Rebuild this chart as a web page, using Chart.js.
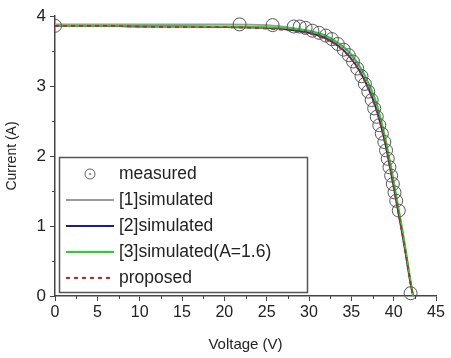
<!DOCTYPE html>
<html>
<head>
<meta charset="utf-8">
<script src="https://cdn.jsdelivr.net/npm/chart.js@4"></script>
<style>
  html, body { margin: 0; padding: 0; background: #fff; }
  #wrap { width: 451px; height: 358px; }
</style>
</head>
<body>
<div id="wrap"><canvas id="myChart"></canvas></div>
<script>
'use strict';

// measured points (V, A)
var measV = [0, 21.8, 25.7, 28.2, 28.9, 29.6, 30.4, 31.2, 32.0, 32.7, 33.4, 34.1, 34.7, 35.2, 35.7, 36.2,
    36.6, 37.0, 37.4, 37.7, 38.0, 38.3, 38.6, 38.9, 39.1, 39.3, 39.5, 39.7, 39.9, 40.1, 40.3, 40.6, 42.0];
var measI = [3.86, 3.88, 3.87, 3.85, 3.85, 3.83, 3.79, 3.76, 3.72, 3.67, 3.60, 3.52, 3.44, 3.35, 3.25, 3.14,
    3.03, 2.92, 2.80, 2.68, 2.56, 2.44, 2.32, 2.20, 2.08, 1.96, 1.84, 1.72, 1.60, 1.48, 1.36, 1.22, 0.04];

// simulated curves share one voltage grid
var simV = [0, 5, 10, 15, 20, 25, 28, 30, 32, 34, 35, 36, 37, 38, 39, 40, 41, 41.5, 42, 42.3];
var sim1 = [3.88, 3.88, 3.88, 3.88, 3.88, 3.87, 3.83, 3.78, 3.70, 3.56, 3.44, 3.27, 3.04, 2.74, 2.24, 1.62, 0.95, 0.58, 0.20, 0];
var sim2 = [3.86, 3.86, 3.85, 3.85, 3.84, 3.83, 3.80, 3.76, 3.68, 3.52, 3.39, 3.21, 2.97, 2.65, 2.18, 1.56, 0.90, 0.54, 0.17, 0];
var sim3 = [3.86, 3.86, 3.86, 3.85, 3.85, 3.84, 3.82, 3.79, 3.72, 3.57, 3.45, 3.28, 3.05, 2.74, 2.26, 1.64, 0.97, 0.60, 0.21, 0];
var prop = [3.86, 3.86, 3.85, 3.84, 3.84, 3.82, 3.79, 3.75, 3.67, 3.51, 3.38, 3.20, 2.96, 2.64, 2.17, 1.55, 0.90, 0.55, 0.18, 0];

var xTicks = [0, 5, 10, 15, 20, 25, 30, 35, 40, 45];
var yTicks = [0, 1, 2, 3, 4];

function pts(xs, ys) {
    return xs.map(function(x, i) { return {x: x, y: ys[i]}; });
}

var FONT = 'Liberation Sans, Arial, sans-serif';

// minor ticks + custom legend box
var extras = {
    id: 'extras',
    // markers are cut at the y axis (left side only)
    beforeDatasetDraw: function(chart, args) {
        if (args.index !== 0) return;
        var ctx = chart.ctx, a = chart.chartArea;
        ctx.save();
        ctx.beginPath();
        ctx.rect(a.left, 0, chart.width - a.left, chart.height);
        ctx.clip();
    },
    afterDatasetDraw: function(chart, args) {
        if (args.index === 0) chart.ctx.restore();
    },
    afterDraw: function(chart) {
        var ctx = chart.ctx;
        var xs = chart.scales.x, ys = chart.scales.y;
        ctx.save();
        ctx.strokeStyle = '#444';
        ctx.lineWidth = 1;
        var v;
        for (v = 2.5; v < 45; v += 5) {
            var px = Math.round(xs.getPixelForValue(v)) + 0.5;
            ctx.beginPath(); ctx.moveTo(px, ys.bottom); ctx.lineTo(px, ys.bottom + 3); ctx.stroke();
        }
        for (v = 0.5; v < 4; v += 1) {
            var py = Math.round(ys.getPixelForValue(v)) + 0.5;
            ctx.beginPath(); ctx.moveTo(xs.left, py); ctx.lineTo(xs.left - 3, py); ctx.stroke();
        }

        // legend
        ctx.fillStyle = '#fff';
        ctx.fillRect(59, 157, 248, 135);
        ctx.strokeStyle = '#555';
        ctx.lineWidth = 1.5;
        ctx.strokeRect(59.5, 157.5, 248, 135);
        ctx.font = '17.5px ' + FONT;
        ctx.textBaseline = 'middle';
        var rowY = [174, 200, 226, 252, 278];
        chart.data.datasets.forEach(function(ds, i) {
            var y = rowY[i];
            if (ds.showLine === false) {
                ctx.strokeStyle = '#666';
                ctx.lineWidth = 1;
                ctx.beginPath(); ctx.arc(90, y, 5, 0, Math.PI * 2); ctx.stroke();
                ctx.fillStyle = '#777';
                ctx.beginPath(); ctx.arc(90, y, 1, 0, Math.PI * 2); ctx.fill();
            } else {
                ctx.strokeStyle = ds.borderColor;
                ctx.lineWidth = 2;
                ctx.setLineDash(ds.borderDash || []);
                ctx.beginPath(); ctx.moveTo(66, y); ctx.lineTo(114, y); ctx.stroke();
                ctx.setLineDash([]);
            }
            ctx.fillStyle = '#222';
            ctx.fillText(ds.label, 119, y);
        });
        ctx.restore();
    }
};

var lineBase = {
    showLine: true,
    pointRadius: 0,
    borderWidth: 1.8,
    cubicInterpolationMode: 'monotone',
    fill: false
};

var data = {
    datasets: [
        {
            label: 'measured',
            data: pts(measV, measI),
            showLine: false,
            pointRadius: 6.5,
            pointBorderWidth: 1,
            pointBorderColor: '#555',
            pointBackgroundColor: 'rgba(0,0,0,0)',
            clip: false,
            order: 0
        },
        Object.assign({}, lineBase, {label: '[1]simulated', data: pts(simV, sim1), borderColor: '#9a9a9a', order: 4}),
        Object.assign({}, lineBase, {label: '[2]simulated', data: pts(simV, sim2), borderColor: '#1c1c96', order: 3}),
        Object.assign({}, lineBase, {label: '[3]simulated(A=1.6)', data: pts(simV, sim3), borderColor: '#1ed81e', order: 2}),
        Object.assign({}, lineBase, {label: 'proposed', data: pts(simV, prop), borderColor: '#d42020', borderDash: [4, 4], order: 1})
    ]
};

var axisFont = {family: FONT, size: 16};

var options = {
    responsive: false,
    animation: false,
    layout: {padding: {top: 16, right: 15, left: 0, bottom: 0}},
    plugins: {legend: {display: false}, tooltip: {enabled: false}},
    scales: {
        x: {
            type: 'linear',
            min: 0, max: 45,
            afterBuildTicks: function(s) { s.ticks = xTicks.map(function(v) { return {value: v}; }); },
            afterFit: function(s) { s.height = 62; },
            ticks: {color: '#222', font: axisFont, padding: 2, maxRotation: 0, autoSkip: false},
            grid: {drawOnChartArea: false, drawTicks: true, tickLength: 5, color: '#444'},
            border: {display: true, color: '#444', width: 1.5},
            title: {display: true, text: 'Voltage (V)', color: '#222', font: {family: FONT, size: 15}, padding: {top: 5}}
        },
        y: {
            type: 'linear',
            min: 0, max: 4,
            afterBuildTicks: function(s) { s.ticks = yTicks.map(function(v) { return {value: v}; }); },
            afterFit: function(s) { s.width = 55; },
            ticks: {color: '#222', font: {family: FONT, size: 17}, padding: 4},
            grid: {drawOnChartArea: false, drawTicks: true, tickLength: 5, color: '#444'},
            border: {display: true, color: '#444', width: 1.5},
            title: {display: true, text: 'Current (A)', color: '#222', font: {family: FONT, size: 14}, padding: {bottom: 2}}
        }
    }
};

var ctx = document.getElementById('myChart').getContext('2d');
ctx.canvas.width = 451;
ctx.canvas.height = 358;
var myChart = new Chart(ctx, {
    type: 'scatter',
    data: data,
    options: options,
    plugins: [extras]
});
</script>
</body>
</html>
